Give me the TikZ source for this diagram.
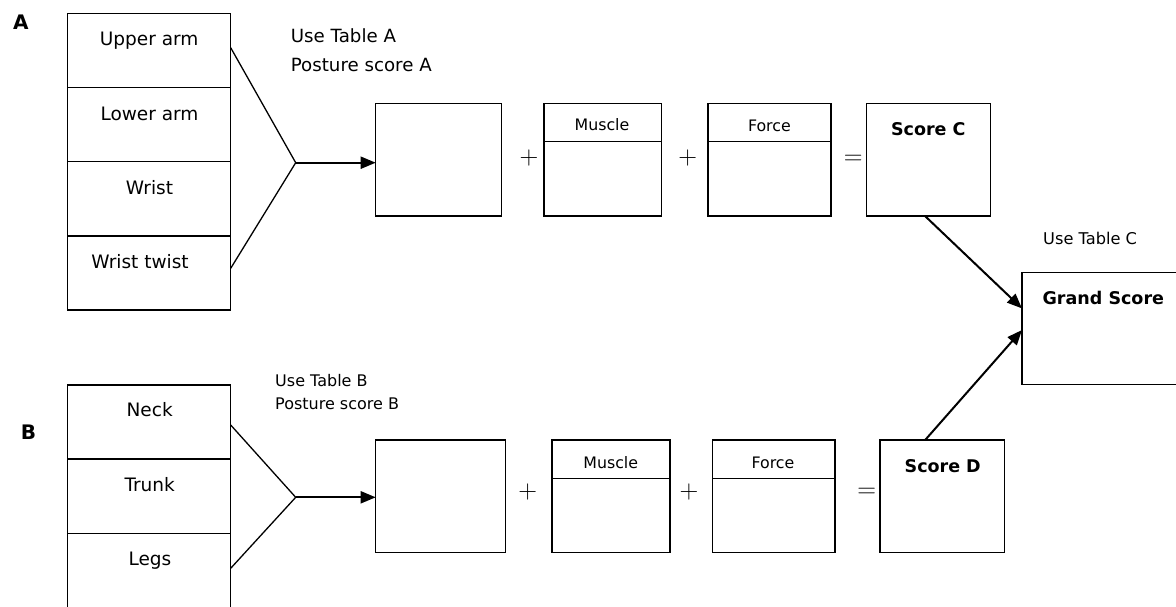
\documentclass[tikz,border=0pt]{standalone}
\usepackage{fontspec}
\setmainfont{DejaVu Sans}
\newfontfamily\opfont{Latin Modern Roman}
\usetikzlibrary{arrows.meta}
\begin{document}
\begin{tikzpicture}[x=1pt,y=-1pt,
  box/.style={draw,line width=1.4pt,inner sep=0pt,outer sep=0pt},
  lbl/.style={anchor=base,inner sep=0pt,font=\fontsize{18.5}{20}\selectfont},
  lblw/.style={anchor=base west,inner sep=0pt},
  hdr/.style={anchor=base,inner sep=0pt,font=\fontsize{15.8}{18}\selectfont},
  bld/.style={anchor=base,inner sep=0pt,font=\fontsize{17.5}{20}\selectfont\bfseries},
  op/.style={inner sep=0pt,font=\opfont\fontsize{26}{28}\selectfont},
  fan/.style={line width=1.3pt},
  conn/.style={line width=2pt,-{Triangle[length=15pt,width=12pt]}}]
\useasboundingbox (0,0) rectangle (1176,606);
\clip (0,0) rectangle (1176,606);
\fill[white] (0,0) rectangle (1176,606);

% column A
\node[box,minimum width=163,minimum height=74] (a1) at (149.2,50.3) {};
\node[box,minimum width=163,minimum height=74.4] (a2) at (149.2,124.5) {};
\node[box,minimum width=163,minimum height=74.3] (a3) at (149.2,198.85) {};
\node[box,minimum width=163,minimum height=74] (a4) at (149.2,273) {};
\node[lbl] (t1) at (149.2,45.7) {Upper arm};
\node[lbl] (t2) at (149.5,120) {Lower arm};
\node[lbl] (t3) at (149.5,194.3) {Wrist};
\node[lbl] (t4) at (140,268.3) {Wrist twist};
\node[bld,font=\fontsize{20}{22}\selectfont\bfseries] (lA) at (20.8,29.3) {A};

% column B
\node[box,minimum width=163,minimum height=74] (b1) at (149.2,422) {};
\node[box,minimum width=163,minimum height=74.3] (b2) at (149.2,496.15) {};
\node[box,minimum width=163,minimum height=86.7] (b3) at (149.2,576.65) {};
\node[lbl] (t5) at (149.7,416) {Neck};
\node[lbl] (t6) at (149.7,491) {Trunk};
\node[lbl] (t7) at (150,565) {Legs};
\node[bld,font=\fontsize{20}{22}\selectfont\bfseries] (lB) at (28.5,439) {B};

% table notes
\node[lblw,font=\fontsize{18.2}{20}\selectfont] (nA1) at (290.7,42.7) {Use Table A};
\node[lblw,font=\fontsize{18.2}{20}\selectfont] (nA2) at (290.7,71) {Posture score A};
\node[lblw,font=\fontsize{16}{18}\selectfont] (nB1) at (275,386) {Use Table B};
\node[lblw,font=\fontsize{16}{18}\selectfont] (nB2) at (275,409) {Posture score B};
\node[lblw,font=\fontsize{16.2}{18}\selectfont] (nC) at (1043,244) {Use Table C};

% top row
\node[box,minimum width=125.6,minimum height=112.7] (pA) at (438.5,159.65) {};
\node[box,minimum width=117.7,minimum height=38.4] (mAh) at (602.85,122.5) {};
\node[box,minimum width=117.7,minimum height=74.3] (mAb) at (602.85,178.85) {};
\node[box,minimum width=123,minimum height=38.4] (fAh) at (769.5,122.5) {};
\node[box,minimum width=123,minimum height=74.3] (fAb) at (769.5,178.85) {};
\node[box,minimum width=124,minimum height=112.7] (sC) at (928.7,159.65) {};
\node[hdr] (hm1) at (602,130.7) {Muscle};
\node[hdr] (hf1) at (769.4,131) {Force};
\node[bld] (hs1) at (928.3,135.7) {Score C};
\node[op] (p1) at (529,158.3) {+};
\node[op] (p2) at (687.7,157.7) {+};
\node[op] (e1) at (853.3,159.4) {=};

% bottom row
\node[box,minimum width=129.6,minimum height=112.7] (pB) at (440.5,496.35) {};
\node[box,minimum width=118,minimum height=38.3] (mBh) at (611,459.15) {};
\node[box,minimum width=118,minimum height=74.4] (mBb) at (611,515.5) {};
\node[box,minimum width=122.7,minimum height=38.3] (fBh) at (773.65,459.15) {};
\node[box,minimum width=122.7,minimum height=74.4] (fBb) at (773.65,515.5) {};
\node[box,minimum width=124.3,minimum height=112.7] (sD) at (942.15,496.35) {};
\node[hdr] (hm2) at (610.7,468.3) {Muscle};
\node[hdr] (hf2) at (773,468) {Force};
\node[bld] (hs2) at (942.7,472.3) {Score D};
\node[op] (p3) at (527.7,491.7) {+};
\node[op] (p4) at (689,491.7) {+};
\node[op] (e2) at (866.7,492.4) {=};

% grand score
\node[box,minimum width=168,minimum height=111.8] (G) at (1106,328.4) {};
\node[bld] (hg) at (1103.3,304) {Grand Score};

% fans and arrows
\coordinate (fanA) at (295.7,162.7);
\coordinate (fanB) at (295.7,497.3);
\draw[fan] ([yshift=2.6pt]a1.east) -- (fanA) -- ([yshift=4.7pt]a4.east);
\draw[fan] ([yshift=-3pt]b1.east) -- (fanB) -- ([yshift=8.35pt]b3.east);
\draw[conn] (fanA) -- (fanA -| pA.west);
\draw[conn] (fanB) -- (fanB -| pB.west);
\draw[conn] ([xshift=-3.7pt]sC.south) -- ([yshift=20pt]G.west);
\draw[conn] ([xshift=-17pt]sD.north) -- ([yshift=-1.6pt]G.west);
\end{tikzpicture}
\end{document}
